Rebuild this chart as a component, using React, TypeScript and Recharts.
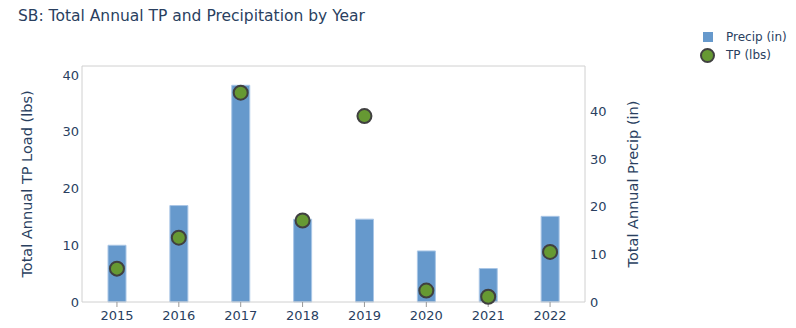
import { Bar, ComposedChart, Line, ReferenceLine, XAxis, YAxis } from "recharts"

// values
const years = ["2015", "2016", "2017", "2018", "2019", "2020", "2021", "2022"]
const precip = [10.0, 17.0, 38.2, 14.6, 14.6, 9.0, 5.9, 15.1]
const tp = [7.0, 13.5, 43.9, 17.1, 39.0, 2.4, 1.1, 10.5]
const leftTicks = [0, 10, 20, 30, 40]
const rightTicks = [0, 10, 20, 30, 40]

const TEXT = "#2a3f5f"
const FRAME = "#d0d0d0"
const BAR_BLUE = "#6699cc"
const DOT_GREEN = "#669933"
const FONT = "'DejaVu Sans', Verdana, sans-serif"

const data = years.map((year, i) => ({ year, precip: precip[i], tp: tp[i] }))

function LegendBox() {
  return (
    <div
      style={{
        position: "absolute",
        left: 700,
        top: 28,
        fontFamily: FONT,
        fontSize: 12,
        color: TEXT,
        lineHeight: "18px",
      }}
    >
      <div style={{ display: "flex", alignItems: "center" }}>
        <span style={{ display: "inline-block", width: 10, height: 10, background: BAR_BLUE, margin: "0 13px 0 3px" }} />
        <span>Precip (in)</span>
      </div>
      <div style={{ display: "flex", alignItems: "center" }}>
        <span
          style={{
            display: "inline-block",
            width: 11,
            height: 11,
            borderRadius: "50%",
            background: DOT_GREEN,
            border: "2px solid #404040",
            margin: "0 11px 0 0",
          }}
        />
        <span>TP (lbs)</span>
      </div>
    </div>
  )
}

export default function App() {
  return (
    <div style={{ position: "absolute", left: 0, top: 0, width: 796, height: 328, background: "#fff" }}>
      <div
        style={{
          position: "absolute",
          left: 18,
          top: 7,
          fontFamily: FONT,
          fontSize: 15.5,
          color: TEXT,
          whiteSpace: "nowrap",
        }}
      >
        SB: Total Annual TP and Precipitation by Year
      </div>
      <LegendBox />
      <ComposedChart
        width={796}
        height={328}
        data={data}
        margin={{ top: 66, right: 151, bottom: 0, left: 22 }}
        style={{ fontFamily: FONT }}
      >
        <XAxis
          dataKey="year"
          height={26}
          padding={{ left: 4, right: 4 }}
          axisLine={{ stroke: FRAME }}
          tickLine={{ stroke: "#999" }}
          tickSize={5}
          tickMargin={4}
          tick={{ fill: TEXT, fontSize: 13 }}
        />
        <YAxis
          yAxisId="left"
          orientation="left"
          width={60}
          domain={[0, 41.6]}
          ticks={leftTicks}
          axisLine={{ stroke: FRAME }}
          tickLine={false}
          tickSize={0}
          tickMargin={3}
          tick={{ fill: TEXT, fontSize: 13 }}
          label={{
            value: "Total Annual TP Load (lbs)",
            angle: -90,
            position: "center",
            dx: -25,
            fill: TEXT,
            fontSize: 14.5,
          }}
        />
        <YAxis
          yAxisId="right"
          orientation="right"
          width={60}
          domain={[0, 49.5]}
          ticks={rightTicks}
          axisLine={{ stroke: FRAME }}
          tickLine={false}
          tickSize={0}
          tickMargin={5}
          tick={{ fill: TEXT, fontSize: 13, textAnchor: "start" }}
          label={{
            value: "Total Annual Precip (in)",
            angle: -90,
            position: "center",
            dx: 18,
            fill: TEXT,
            fontSize: 14.5,
          }}
        />
        <ReferenceLine yAxisId="left" y={41.6} stroke={FRAME} />
        <Bar
          yAxisId="left"
          dataKey="precip"
          name="Precip (in)"
          barSize={18}
          fill={BAR_BLUE}
          stroke="#a9c6e6"
          strokeWidth={1}
          isAnimationActive={false}
        />
        <Line
          yAxisId="right"
          dataKey="tp"
          name="TP (lbs)"
          stroke="none"
          dot={{ r: 7, fill: DOT_GREEN, stroke: "#404040", strokeWidth: 2 }}
          activeDot={false}
          isAnimationActive={false}
        />
      </ComposedChart>
    </div>
  )
}
